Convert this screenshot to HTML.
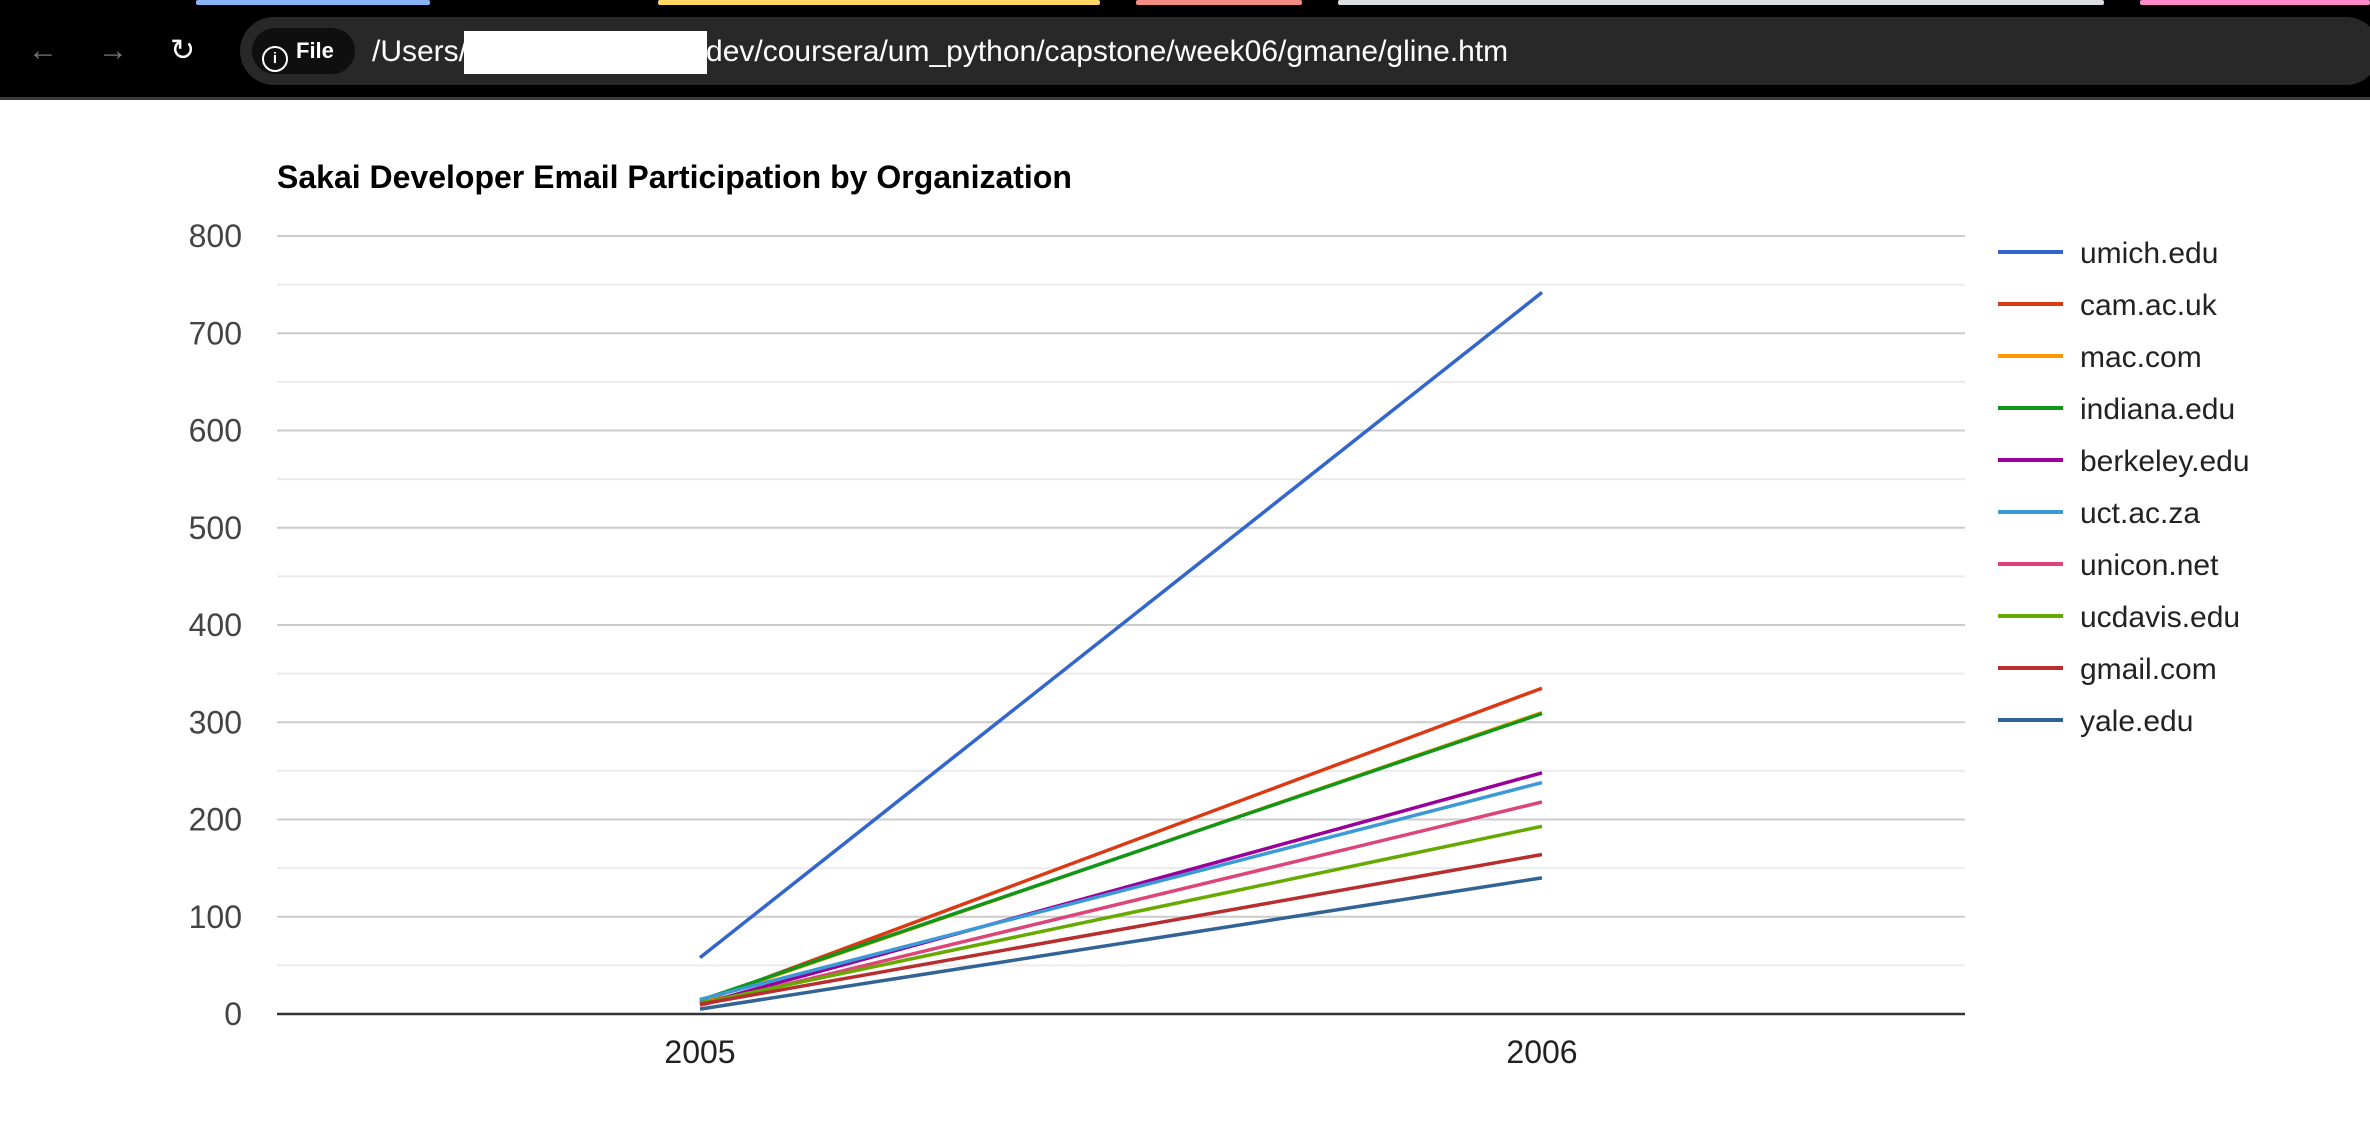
<!DOCTYPE html>
<html><head><meta charset="utf-8"><style>
body{margin:0;width:2370px;height:1140px;background:#fff;overflow:hidden;font-family:"Liberation Sans",Arial,sans-serif;}
#bar{position:absolute;left:0;top:0;width:2370px;height:100px;background:#000;border-bottom:3px solid #3a3a3a;box-sizing:border-box}
.tabline{position:absolute;top:0;height:5px;border-radius:2px}
#pill{position:absolute;left:240px;top:17px;width:2140px;height:68px;background:#282828;border-radius:34px}
#chip{position:absolute;left:252px;top:28px;width:103px;height:46px;background:#0f0f0f;border-radius:23px;color:#fff;font-size:22px;font-weight:bold;line-height:46px}
#url{position:absolute;left:372px;top:34px;color:#fff;font-size:30px;line-height:36px}
#redact{position:absolute;left:464px;top:31px;width:243px;height:43px;background:#fff}
.nav{position:absolute;top:34px;color:#777;font-size:30px;line-height:34px}
</style></head><body>
<div id="bar">
 <div class="tabline" style="left:196px;width:234px;background:#8ab4f8"></div>
 <div class="tabline" style="left:658px;width:442px;background:#fdd663"></div>
 <div class="tabline" style="left:1136px;width:166px;background:#f28b82"></div>
 <div class="tabline" style="left:1338px;width:766px;background:#dadce0"></div>
 <div class="tabline" style="left:2140px;width:230px;background:#ff8bcb"></div>
 <div class="nav" style="left:28px">←</div>
 <div class="nav" style="left:98px">→</div>
 <div class="nav" style="left:170px;color:#fff">↻</div>
 <div id="pill"></div>
 <div id="chip"><span style="display:inline-block;width:22px;height:22px;border:2.5px solid #fff;border-radius:50%;margin:0 8px 0 10px;vertical-align:-5px;font-size:15px;line-height:22px;text-align:center">i</span>File</div>
 <div id="url">/Users/<span style="display:inline-block;width:239px"></span>dev/coursera/um_python/capstone/week06/gmane/gline.htm</div>
 <div id="redact"></div>
</div>
<svg id="chart" width="2370" height="1140" style="position:absolute;left:0;top:0"></svg>
<script>
const categories=["2005","2006"];
const seriesNames=["umich.edu","cam.ac.uk","mac.com","indiana.edu","berkeley.edu","uct.ac.za","unicon.net","ucdavis.edu","gmail.com","yale.edu"];
const seriesColors=["#3366cc","#dc3912","#ff9900","#109618","#990099","#3b9ad6","#dd4477","#66aa00","#b82e2e","#316395"];
const umich=[58,742];
const cam=[12,335];
const mac=[13,310];
const indiana=[14,309];
const berkeley=[10,248];
const uct=[15,238];
const unicon=[9,218];
const ucdavis=[11,193];
const gmail=[10,164];
const yale=[5,140];
const seriesValues=[umich,cam,mac,indiana,berkeley,uct,unicon,ucdavis,gmail,yale];
const yTicks=[0,100,200,300,400,500,600,700,800];
const yMinor=[50,150,250,350,450,550,650,750];

const NS="http://www.w3.org/2000/svg";
const svg=document.getElementById('chart');
const L=277,R=1965,T=236,B=1014,X0=700,X1=1542;
const yMax=800;
const FF='Liberation Sans, Arial, sans-serif';
function y(v){return B-(v/yMax)*(B-T);}
function x(i){return X0+i*(X1-X0)/(categories.length-1);}
function mk(tag,attrs){const e=document.createElementNS(NS,tag);for(const k in attrs)e.setAttribute(k,attrs[k]);svg.appendChild(e);return e;}

let t=mk('text',{x:277,y:188,'font-size':32,'font-weight':'bold',fill:'#000','font-family':FF});
t.textContent="Sakai Developer Email Participation by Organization";



yMinor.forEach(v=>{const l=mk('line',{x1:L,x2:R,y1:y(v),y2:y(v),stroke:'#ebebeb','stroke-width':2});

});
yTicks.forEach(v=>{
 if(v>0){const l=mk('line',{x1:L,x2:R,y1:y(v),y2:y(v),stroke:'#cccccc','stroke-width':2});
 
 }
 const tx=mk('text',{x:242,y:y(v)+11,'text-anchor':'end','font-size':32,fill:'#444','font-family':FF});
 tx.textContent=v;
 
 
});
categories.forEach((c,i)=>{const tx=mk('text',{x:x(i),y:1063,'text-anchor':'middle','font-size':32,fill:'#222','font-family':FF});
tx.textContent=c;

});

seriesNames.forEach((n,si)=>{
 const pts=seriesValues[si].map((v,i)=>x(i)+','+y(v)).join(' ');
 const p=mk('polyline',{points:pts,fill:'none',stroke:seriesColors[si],'stroke-width':3.5});
 
 
});
const ax=mk('line',{x1:L,x2:R,y1:B,y2:B,stroke:'#333','stroke-width':2.5});



seriesNames.forEach((n,i)=>{
 const yy=252+i*52;
 const g=document.createElementNS(NS,'g');svg.appendChild(g);
 
 
 const l=document.createElementNS(NS,'line');
 l.setAttribute('x1',1998);l.setAttribute('x2',2063);l.setAttribute('y1',yy);l.setAttribute('y2',yy);
 l.setAttribute('stroke',seriesColors[i]);l.setAttribute('stroke-width',4);g.appendChild(l);
 const tx=document.createElementNS(NS,'text');
 tx.setAttribute('x',2080);tx.setAttribute('y',yy+11);tx.setAttribute('font-size',30);tx.setAttribute('fill','#222');
 tx.setAttribute('font-family',FF);tx.textContent=n;g.appendChild(tx);
});
</script>
</body></html>
